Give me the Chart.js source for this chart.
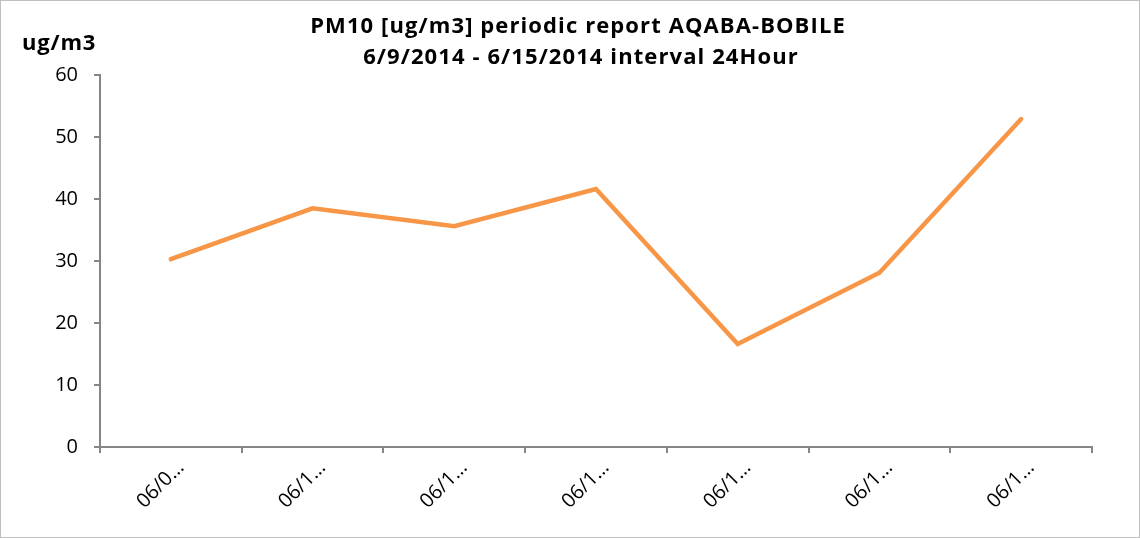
<!DOCTYPE html>
<html>
<head>
<meta charset="utf-8">
<script src="https://cdn.jsdelivr.net/npm/chart.js@4.4.1/dist/chart.umd.min.js"></script>
<style>
html,body{margin:0;padding:0;background:#fff;}
#wrap{position:absolute;left:0;top:0;width:1138px;height:536px;border:1px solid #bfbfbf;}
canvas{display:block;}
</style>
</head>
<body>
<div id="wrap"><canvas id="c" width="1138" height="536"></canvas></div>
<script>
const categories = ["06/0…","06/1…","06/1…","06/1…","06/1…","06/1…","06/1…"];
const pm10Values = [30.3, 38.5, 35.6, 41.6, 16.6, 28.1, 52.9];
const yTicks = [0,10,20,30,40,50,60];
const titleLines = ["PM10 [ug/m3] periodic report AQABA-BOBILE","6/9/2014 - 6/15/2014 interval 24Hour"];
const unitLabel = "ug/m3";

const FONT = "'Open Sans', 'Liberation Sans', sans-serif";

const textPlugin = {
  id:'texts',
  afterDraw(chart){
    const ctx = chart.ctx;
    ctx.save();
    ctx.fillStyle = "#000";
    ctx.textBaseline = "middle";
    ctx.font = "bold 22px " + FONT;
    try { ctx.letterSpacing = "1.1px"; } catch(e) {}
    ctx.textAlign = "center";
    ctx.fillText(titleLines[0], 577, 26);
    ctx.fillText(titleLines[1], 580, 57);
    ctx.textAlign = "left";
    try { ctx.letterSpacing = "0.8px"; } catch(e) {}
    ctx.fillText(unitLabel, 21, 43);
    ctx.restore();
  }
};

new Chart(document.getElementById('c'), {
  type:'line',
  data:{
    labels:categories,
    datasets:[{
      data:pm10Values,
      borderColor:'#F79646',
      backgroundColor:'#F79646',
      borderWidth:4.5,
      pointRadius:0,
      tension:0,
      borderCapStyle:'round',
      borderJoinStyle:'miter'
    }]
  },
  options:{
    responsive:false,
    animation:false,
    devicePixelRatio:1,
    layout:{padding:{left:0,right:47,top:74,bottom:0}},
    plugins:{
      legend:{display:false},
      tooltip:{enabled:false},
      title:{display:false}
    },
    scales:{
      x:{
        offset:true,
        afterFit(axis){ axis.height = 90; },
        grid:{display:true,drawOnChartArea:false,drawTicks:true,tickLength:6,color:'#868686',lineWidth:2,offset:true},
        border:{display:true,color:'#868686',width:2},
        ticks:{color:'#000',font:{family:FONT,size:20},maxRotation:45,minRotation:45,autoSkip:false,padding:3,labelOffset:10}
      },
      y:{
        min:0,max:60,
        afterFit(axis){ axis.width = 99; },
        afterBuildTicks(axis){ axis.ticks = yTicks.map(v=>({value:v})); },
        grid:{display:true,drawOnChartArea:false,drawTicks:true,tickLength:6,color:'#868686',lineWidth:2},
        border:{display:true,color:'#868686',width:2},
        ticks:{color:'#000',font:{family:FONT,size:20},padding:16}
      }
    }
  },
  plugins:[textPlugin]
});
</script>
</body>
</html>
